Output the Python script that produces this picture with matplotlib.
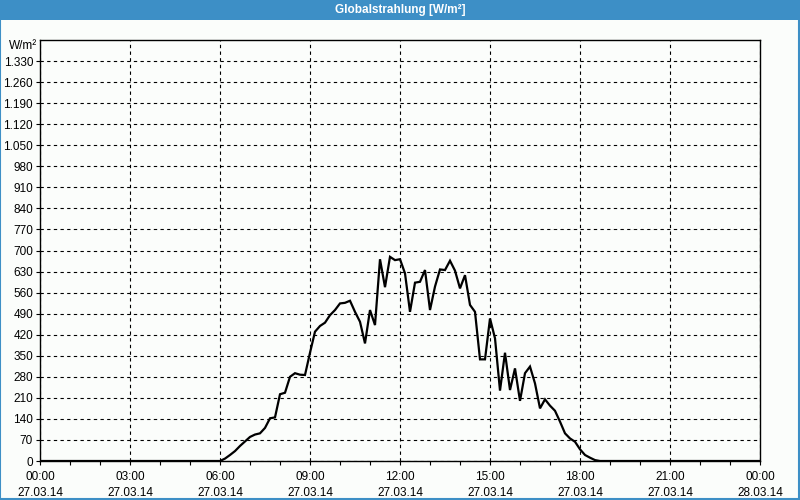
import matplotlib
matplotlib.use("Agg")
import matplotlib.pyplot as plt
from matplotlib.patches import Rectangle
from matplotlib.ticker import FuncFormatter

plt.rcParams["font.family"] = ["Liberation Sans", "DejaVu Sans"]

# Messwerte (10-Minuten-Raster)
times = ["00:00", "06:00", "06:10", "06:20", "06:30", "06:40", "06:50", "07:00", "07:10", "07:20",
         "07:30", "07:40", "07:50", "08:00", "08:10", "08:20", "08:30", "08:40", "08:50", "09:00",
         "09:10", "09:20", "09:30", "09:40", "09:50", "10:00", "10:10", "10:20", "10:30", "10:40",
         "10:50", "11:00", "11:10", "11:20", "11:30", "11:40", "11:50", "12:00", "12:10", "12:20",
         "12:30", "12:40", "12:50", "13:00", "13:10", "13:20", "13:30", "13:40", "13:50", "14:00",
         "14:10", "14:20", "14:30", "14:40", "14:50", "15:00", "15:10", "15:20", "15:30", "15:40",
         "15:50", "16:00", "16:10", "16:20", "16:30", "16:40", "16:50", "17:00", "17:10", "17:20",
         "17:30", "17:40", "17:50", "18:00", "18:10", "18:20", "18:30", "18:40", "24:00"]
values = [0, 0, 8, 20, 33, 50, 65, 80, 88, 92,
          110, 142, 145, 222, 227, 280, 292, 287, 286, 360,
          430, 449, 460, 485, 502, 524, 526, 533, 496, 463,
          391, 502, 452, 671, 578, 679, 668, 671, 624, 496,
          593, 596, 635, 502, 580, 637, 635, 666, 633, 574,
          618, 519, 496, 338, 338, 474, 408, 234, 360, 236,
          308, 200, 292, 314, 258, 175, 205, 184, 167, 131,
          92, 75, 64, 39, 20, 11, 3, 0, 0]

x_major = [0, 3, 6, 9, 12, 15, 18, 21, 24]
x_labels = ["00:00\n27.03.14", "03:00\n27.03.14", "06:00\n27.03.14", "09:00\n27.03.14",
            "12:00\n27.03.14", "15:00\n27.03.14", "18:00\n27.03.14", "21:00\n27.03.14",
            "00:00\n28.03.14"]
y_ticks = list(range(0, 1331, 70))

hours = [int(t[:2]) + int(t[3:]) / 60 for t in times]

BLUE = "#3d8fc6"
BG = "#fbfdfb"

fig = plt.figure(figsize=(8, 5), dpi=100, facecolor=BG)

# Titelleiste + Rahmen
fig.patches.append(Rectangle((0, 0.96), 1, 0.04, transform=fig.transFigure,
                             facecolor=BLUE, edgecolor="none", zorder=0))
fig.patches.append(Rectangle((0.0006, 0.003), 0.9982, 0.995, transform=fig.transFigure,
                             facecolor="none", edgecolor=BLUE, linewidth=1.5, zorder=0))
fig.text(0.5, 0.979, "Globalstrahlung [W/m²]", color="white", fontsize=8.5,
         fontweight="bold", ha="center", va="center")

ax = fig.add_axes([0.05, 0.078, 0.90, 0.842])
ax.set_facecolor(BG)
ax.plot(hours, values, color="black", linewidth=1.6, solid_joinstyle="miter", zorder=3)

ax.set_xlim(0, 24)
ax.set_ylim(0, 1400)
ax.set_xticks(x_major)
ax.set_xticklabels(x_labels, fontsize=8.5, linespacing=1.45)
ax.set_xticks(range(25), minor=True)
ax.set_yticks(y_ticks)
ax.yaxis.set_major_formatter(FuncFormatter(lambda v, p: f"{int(v):,}".replace(",", ".")))
ax.tick_params(axis="y", labelsize=8.5, length=3, width=0.8, pad=2)
ax.tick_params(axis="x", which="both", length=3, width=0.8, pad=4)

ax.grid(True, which="major", color="black", linestyle=(0, (3, 3)), linewidth=0.8)
for s in ax.spines.values():
    s.set_linewidth(1.0)

ax.text(-0.043, 1.0, "W/m²", transform=ax.transAxes, fontsize=8.5, ha="left", va="top")

plt.savefig("out.png", dpi=100, facecolor=BG)
